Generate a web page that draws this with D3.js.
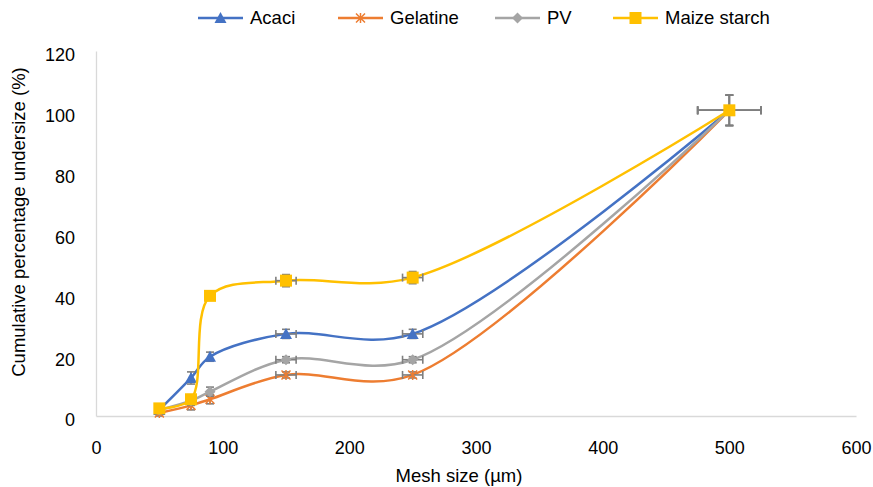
<!DOCTYPE html>
<html>
<head>
<meta charset="utf-8">
<script src="https://cdn.jsdelivr.net/npm/d3@7"></script>
<style>
  body { margin: 0; background: #fff; }
  svg { font-family: "Liberation Sans", Arial, sans-serif; }
</style>
</head>
<body>
<svg id="chart" width="873" height="487"></svg>
<script>
const meshSizes = [50, 75, 90, 150, 250, 500];
const meshErr = [0, 0, 0, 8, 8, 25];

const seriesNames = ['Acaci', 'Gelatine', 'PV', 'Maize starch'];
const acaci = [2, 12.5, 19.5, 27, 27, 100.5];
const gelatine = [1, 3.5, 5.5, 13.5, 13.5, 100.5];
const pv = [2, 5, 8, 18.5, 18.5, 100.5];
const maize = [2.5, 5.5, 39.5, 44.5, 45.5, 100.5];

const acaciErr = [1, 2, 1.5, 1.5, 1.5, 5];
const gelatineErr = [1, 1.5, 1.5, 1, 1, 5];
const pvErr = [1, 1.5, 1.5, 1, 1, 5];
const maizeErr = [1, 1.5, 1, 2, 2, 5];

const xTicks = [0, 100, 200, 300, 400, 500, 600];
const yTicks = [0, 20, 40, 60, 80, 100, 120];

const colors = ['#4472C4', '#ED7D31', '#A5A5A5', '#FFC000'];
const markers = ['triangle', 'star', 'diamond', 'square'];

const series = [acaci, gelatine, pv, maize].map((vals, i) => ({
  name: seriesNames[i],
  color: colors[i],
  marker: markers[i],
  points: vals.map((v, j) => ({
    x: meshSizes[j],
    y: v,
    ex: meshErr[j],
    ey: [acaciErr, gelatineErr, pvErr, maizeErr][i][j],
  })),
}));

const svg = d3.select('#chart');
const x = d3.scaleLinear().domain([0, 600]).range([96, 856]);
const y = d3.scaleLinear().domain([0, 120]).range([416, 51]);

// axes
const xAxis = svg.append('g')
  .attr('transform', `translate(0,${y(0)})`)
  .call(d3.axisBottom(x).tickValues(xTicks).tickSize(0).tickPadding(25));
const yAxis = svg.append('g')
  .attr('transform', `translate(${x(0)},0)`)
  .call(d3.axisLeft(y).tickValues(yTicks).tickSize(0).tickPadding(21));
[xAxis, yAxis].forEach((g) => {
  g.select('.domain').attr('stroke', '#d9d9d9').attr('stroke-width', 1.3);
  g.selectAll('text')
    .attr('fill', '#000')
    .attr('font-size', 18)
    .attr('font-family', '"Liberation Sans", Arial, sans-serif');
});
yAxis.selectAll('text').attr('dy', '0.55em');

svg.append('text')
  .attr('x', 459)
  .attr('y', 482)
  .attr('text-anchor', 'middle')
  .attr('font-size', 18.5)
  .text('Mesh size (µm)');

svg.append('text')
  .attr('transform', 'translate(25,222) rotate(-90)')
  .attr('text-anchor', 'middle')
  .attr('font-size', 18.5)
  .text('Cumulative percentage undersize (%)');

const drawMarker = (g, type, color) => {
  if (type === 'triangle') {
    g.append('path').attr('d', 'M0,-6 L6,5 L-6,5 Z').attr('fill', color);
  } else if (type === 'square') {
    g.append('rect').attr('x', -6).attr('y', -6).attr('width', 12).attr('height', 12)
      .attr('fill', color);
  } else if (type === 'diamond') {
    g.append('path').attr('d', 'M0,-5.5 L5.5,0 L0,5.5 L-5.5,0 Z').attr('fill', color);
  } else {
    g.append('path')
      .attr('d', 'M0,-5 V5 M-4.5,-4.5 L4.5,4.5 M-4.5,4.5 L4.5,-4.5')
      .attr('stroke', color)
      .attr('stroke-width', 1.5)
      .attr('fill', 'none');
  }
};

const line = d3.line()
  .x((d) => x(d.x))
  .y((d) => y(d.y))
  .curve(d3.curveCatmullRom.alpha(0.5));

const errColor = '#7f7f7f';
series.forEach((s) => {
  const g = svg.append('g');
  g.append('path')
    .attr('d', line(s.points))
    .attr('fill', 'none')
    .attr('stroke', s.color)
    .attr('stroke-width', 2.5);

  // error bars
  s.points.forEach((p) => {
    const cx = x(p.x);
    const cy = y(p.y);
    const eb = g.append('g').attr('stroke', errColor).attr('stroke-width', 1.6);
    if (p.ey > 0) {
      const y1 = y(p.y + p.ey);
      const y2 = y(p.y - p.ey);
      eb.append('line').attr('x1', cx).attr('x2', cx).attr('y1', y1).attr('y2', y2);
      eb.append('line').attr('x1', cx - 4).attr('x2', cx + 4).attr('y1', y1).attr('y2', y1);
      eb.append('line').attr('x1', cx - 4).attr('x2', cx + 4).attr('y1', y2).attr('y2', y2);
    }
    if (p.ex > 0) {
      const x1 = x(p.x - p.ex);
      const x2 = x(p.x + p.ex);
      eb.append('line').attr('x1', x1).attr('x2', x2).attr('y1', cy).attr('y2', cy);
      eb.append('line').attr('x1', x1).attr('x2', x1).attr('y1', cy - 4).attr('y2', cy + 4);
      eb.append('line').attr('x1', x2).attr('x2', x2).attr('y1', cy - 4).attr('y2', cy + 4);
    }
  });

  s.points.forEach((p) => {
    const m = g.append('g').attr('transform', `translate(${x(p.x)},${y(p.y)})`);
    drawMarker(m, s.marker, s.color);
  });
});

// legend
const legendX = [198, 338, 495, 613];
const legend = svg.append('g').attr('transform', 'translate(0,18)');
series.forEach((s, i) => {
  const lg = legend.append('g').attr('transform', `translate(${legendX[i]},0)`);
  lg.append('line')
    .attr('x1', 0).attr('x2', 45)
    .attr('stroke', s.color)
    .attr('stroke-width', 2.5);
  drawMarker(lg.append('g').attr('transform', 'translate(22.5,0)'), s.marker, s.color);
  lg.append('text')
    .attr('x', 52)
    .attr('dy', '0.35em')
    .attr('font-size', 18.5)
    .text(s.name);
});
</script>
</body>
</html>
